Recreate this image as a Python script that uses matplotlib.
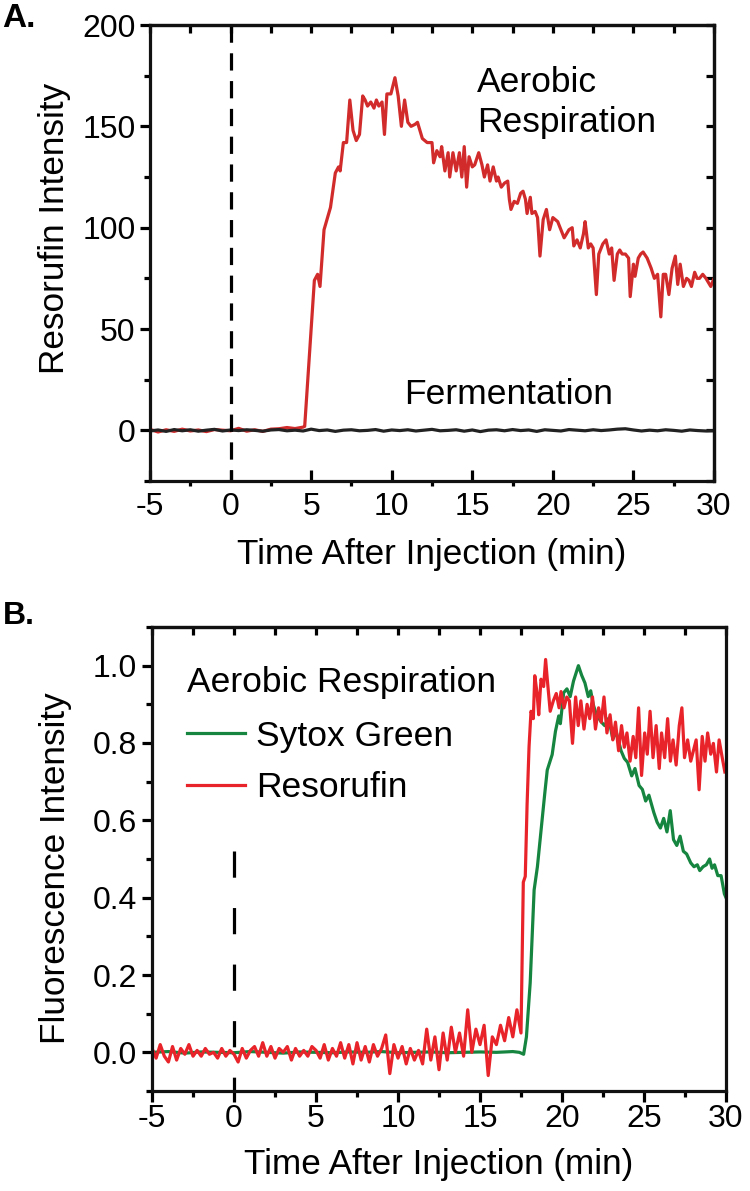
import numpy as np
import matplotlib
matplotlib.use('Agg')
import matplotlib.pyplot as plt
from matplotlib.ticker import MultipleLocator

plt.rcParams['font.family'] = ['Liberation Sans', 'DejaVu Sans']

# ---------------- panel A data ----------------
resA_pre_t = np.arange(-5.0, 4.6, 0.5)
resA_pre_y = [0.5, -0.8, 0.3, -0.5, 0.6, -0.3, 0.2, -0.6, 0.4, 0.1,
              -0.2, 1.0, -0.4, 0.3, -0.5, 0.6, 0.8, 1.4, 0.9, 1.6]
resA_t = [4.6, 5.2, 5.4, 5.55, 5.8, 6.2, 6.5, 6.7, 6.8, 7.0, 7.2, 7.4, 7.6, 7.8, 8.0,
          8.2, 8.35, 8.5, 8.7, 8.9, 9.05, 9.2, 9.4, 9.55, 9.7, 9.95, 10.2, 10.4, 10.6,
          10.8, 11.0, 11.2, 11.45, 11.6, 11.9, 12.2, 12.5, 12.6, 12.8, 13.0, 13.1, 13.3,
          13.5, 13.6, 13.8, 14.0, 14.2, 14.35, 14.5, 14.65, 14.8, 15.0, 15.15, 15.4, 15.6,
          15.75, 15.95, 16.1, 16.3, 16.5, 16.6, 16.8, 17.0, 17.2, 17.3, 17.4, 17.6, 17.8,
          18.0, 18.15, 18.3, 18.4, 18.6, 18.7, 18.9, 19.05, 19.2, 19.4, 19.6, 19.8, 20.0,
          20.3, 20.5, 20.7, 21.0, 21.2, 21.3, 21.5, 21.7, 21.9, 22.0, 22.2, 22.35, 22.5,
          22.7, 22.85, 23.1, 23.3, 23.5, 23.65, 23.8, 24.0, 24.15, 24.3, 24.5, 24.7, 24.8,
          25.0, 25.1, 25.3, 25.45, 25.6, 25.85, 26.1, 26.3, 26.5, 26.7, 26.85, 27.0, 27.2,
          27.4, 27.6, 27.75, 27.9, 28.1, 28.3, 28.45, 28.6, 28.8, 28.95, 29.1, 29.3, 29.5,
          29.8, 30.0, 30.15]
resA_y = [2, 74, 77, 71, 99, 110, 127, 130, 128, 142, 142, 163, 148, 143, 146,
          165, 163, 160, 162, 159, 163, 160, 162, 146, 166, 166, 174, 165, 150,
          163, 152, 150, 151, 152, 144, 142, 142, 132, 138, 135, 140, 128,
          137, 125, 137, 128, 137, 125, 140, 120, 135, 130, 131, 137, 131,
          125, 131, 123, 130, 123, 125, 120, 122, 123, 114, 109, 113, 112,
          117, 118, 114, 107, 115, 107, 108, 105, 86, 104, 109, 99, 105,
          103, 99, 95, 99, 100, 91, 94, 90, 97, 103, 90, 92, 90,
          67, 87, 92, 94, 87, 90, 74, 87, 89, 87, 87, 85, 66,
          82, 76, 85, 87, 88, 85, 80, 75, 77, 56, 77, 77, 67,
          80, 86, 72, 82, 71, 75, 74, 71, 78, 75, 75, 77, 75,
          71, 75, 76]
ferm_t = np.arange(-5.0, 30.1, 0.5)
ferm_y = [-0.3, 0.2, -0.5, 0.4, -0.2, 0.3, -0.4, 0.1, 0.5, -0.3, 0.2, -0.1,
          0.3, 0.0, -0.4, 0.2, 0.4, -0.2, 0.1, -0.3, 0.6, -0.1, 0.2, -0.5,
          0.1, 0.3, -0.2, 0.0, 0.4, -0.4, 0.2, -0.1, 0.3, -0.3, 0.1, 0.5,
          -0.2, 0.0, 0.3, -0.4, 0.2, -0.6, 0.1, 0.3, -0.2, 0.4, -0.1, 0.2,
          -0.5, 0.3, 0.0, -0.3, 0.4, 0.1, -0.2, 0.3, -0.1, 0.2, 0.6, 0.8,
          0.2, -0.3, 0.1, -0.2, 0.3, 0.0, -0.4, 0.2, -0.1, -0.3, -0.2]

# ---------------- panel B data ----------------
resB_pre_t = np.arange(-5.0, 17.51, 0.25)
resB_pre_y = [0.01, -0.015, 0.02, -0.01, -0.025, 0.015, -0.02, 0.01, -0.005, 0.02,
              -0.01, 0.005, -0.01, 0.01, -0.005, 0.0, -0.015, 0.01, -0.01, 0.005,
              -0.005, -0.025, 0.01, -0.015, 0.005, 0.015, -0.01, 0.025, -0.01, 0.015,
              -0.015, 0.01, 0.0, 0.015, -0.02, 0.01, -0.01, 0.005, -0.01, 0.015,
              0.005, -0.015, 0.02, -0.02, 0.01, -0.01, 0.025, -0.015, 0.02, -0.03,
              0.025, -0.02, 0.015, -0.025, 0.02, -0.01, 0.01, 0.045, -0.055, 0.02,
              -0.015, 0.015, -0.03, 0.01, -0.02, 0.005, -0.03, 0.06, -0.02, 0.04,
              -0.045, 0.05, -0.02, 0.065, 0.0, 0.05, -0.01, 0.11, 0.0, 0.06,
              0.02, 0.07, -0.06, 0.04, 0.02, 0.07, 0.03, 0.09, 0.04, 0.11, 0.05]
resB_t = [17.64, 17.76, 17.87, 17.99, 18.11, 18.25, 18.34, 18.48, 18.58, 18.72, 18.88,
          19.0, 19.12, 19.28, 19.47, 19.65, 19.82, 19.94, 20.12, 20.29, 20.45, 20.64,
          20.83, 20.99, 21.15, 21.34, 21.53, 21.69, 21.86, 22.04, 22.23, 22.39, 22.56,
          22.74, 22.93, 23.10, 23.26, 23.45, 23.63, 23.80, 23.96, 24.15, 24.34, 24.50,
          24.67, 24.85, 25.04, 25.20, 25.37, 25.55, 25.74, 25.93, 26.07, 26.26, 26.44,
          26.61, 26.77, 26.96, 27.15, 27.31, 27.47, 27.66, 27.85, 28.01, 28.18, 28.36,
          28.55, 28.72, 28.88, 29.07, 29.23, 29.42, 29.58, 29.77, 29.93]
resB_y = [0.44, 0.455, 0.64, 0.79, 0.882, 0.863, 0.974, 0.928, 0.873, 0.965, 0.946,
          1.016, 0.956, 0.882, 0.909, 0.928, 0.891, 0.933, 0.891, 0.919, 0.909, 0.799,
          0.919, 0.845, 0.909, 0.836, 0.900, 0.863, 0.919, 0.836, 0.891, 0.854, 0.919,
          0.826, 0.873, 0.808, 0.854, 0.780, 0.845, 0.789, 0.826, 0.753, 0.817, 0.762,
          0.891, 0.716, 0.826, 0.771, 0.882, 0.762, 0.845, 0.734, 0.826, 0.762, 0.863,
          0.753, 0.808, 0.743, 0.845, 0.891, 0.762, 0.808, 0.753, 0.780, 0.808, 0.679,
          0.817, 0.753, 0.826, 0.771, 0.799, 0.725, 0.808, 0.762, 0.725]
sytox_t = [-5, -4, -3, -2, -1, 0, 1, 2, 3, 4, 5, 6, 7, 8, 9, 10, 11, 12, 13, 14, 15,
           16, 17, 17.4, 17.66, 17.83, 18.06, 18.3, 18.5, 18.76, 18.95, 19.1, 19.25,
           19.4, 19.6, 19.8, 19.9, 20.1, 20.3, 20.5, 20.7, 21.0, 21.2, 21.4, 21.6,
           21.75, 21.9, 22.1, 22.4, 22.6, 22.85, 23.1, 23.3, 23.6, 23.8, 24.0, 24.25,
           24.45, 24.7, 24.9, 25.1, 25.3, 25.6, 25.8, 26.0, 26.2, 26.4, 26.6, 26.8,
           27.0, 27.2, 27.4, 27.6, 27.85, 28.05, 28.25, 28.4, 28.6, 28.8, 29.0, 29.15,
           29.3, 29.5, 29.7, 29.9, 30.0]
sytox_y = [0.0, 0.002, -0.002, 0.001, 0.0, -0.001, 0.002, 0.0, -0.002, 0.001, 0.0,
           -0.001, 0.001, 0.0, 0.002, -0.001, 0.0, 0.001, -0.001, 0.0, 0.001,
           0.0, 0.002, 0.0, -0.005, 0.04, 0.18, 0.42, 0.48, 0.59, 0.67, 0.73, 0.75,
           0.77, 0.83, 0.87, 0.85, 0.93, 0.94, 0.92, 0.96, 1.0, 0.975, 0.955, 0.92,
           0.935, 0.9, 0.873, 0.854, 0.845, 0.864, 0.81, 0.83, 0.78, 0.76, 0.75, 0.715,
           0.734, 0.69, 0.68, 0.65, 0.665, 0.62, 0.595, 0.58, 0.605, 0.57, 0.625, 0.55,
           0.535, 0.559, 0.52, 0.513, 0.49, 0.48, 0.485, 0.47, 0.48, 0.485, 0.50, 0.476,
           0.485, 0.457, 0.457, 0.41, 0.40]

tick_fs = 23
label_fs = 25.3
text_fs = 25.5
lw_axis = 2.3

fig = plt.figure(figsize=(7.5, 11.91), dpi=100)
axA = fig.add_axes([0.2, 0.5961, 0.752, 0.3829])
axB = fig.add_axes([0.2027, 0.08396, 0.7653, 0.3896])

for ax in (axA, axB):
    for s in ax.spines.values():
        s.set_linewidth(lw_axis)
        s.set_color('#111111')

# ---- panel A ----
axA.plot(np.concatenate([resA_pre_t, resA_t]), np.concatenate([resA_pre_y, resA_y]),
         color='#d22b2b', lw=2.3)
axA.plot(ferm_t, ferm_y, color='#222222', lw=2.3)
axA.plot([0, 0], [200, -25], color='black', lw=2.3, dashes=(5.4, 3.3))
axA.set_xlim(-5, 30)
axA.set_ylim(-25, 200)
axA.xaxis.set_major_locator(MultipleLocator(5))
axA.xaxis.set_minor_locator(MultipleLocator(2.5))
axA.yaxis.set_major_locator(MultipleLocator(50))
axA.yaxis.set_minor_locator(MultipleLocator(25))
axA.tick_params(axis='x', which='major', direction='in', length=7.7, width=lw_axis,
                labelsize=tick_fs, pad=8, top=False)
axA.tick_params(axis='x', which='minor', direction='out', length=3.8, width=lw_axis, top=False)
axA.tick_params(axis='y', which='major', direction='out', length=7.2, width=lw_axis,
                labelsize=tick_fs, pad=3.2, right=False)
axA.tick_params(axis='y', which='minor', direction='out', length=4.3, width=lw_axis, right=False)
axA.set_xticks([-5, 0, 5, 10, 15, 20, 25, 30])
axA.set_xticklabels(['-5', '0', '5', '10', '15', '20', '25', '30'])
topA = axA.secondary_xaxis('top')
topA.xaxis.set_major_locator(MultipleLocator(5))
topA.xaxis.set_minor_locator(MultipleLocator(2.5))
topA.tick_params(which='both', direction='in', length=6, width=lw_axis, labeltop=False)
topA.spines['top'].set_linewidth(lw_axis)
rightA = axA.secondary_yaxis('right')
rightA.yaxis.set_major_locator(MultipleLocator(50))
rightA.yaxis.set_minor_locator(MultipleLocator(25))
rightA.tick_params(which='both', direction='in', length=6, width=lw_axis, labelright=False)
rightA.spines['right'].set_linewidth(lw_axis)
axA.set_xlabel('Time After Injection (min)', fontsize=label_fs)
axA.set_ylabel('Resorufin Intensity', fontsize=label_fs)
axA.xaxis.set_label_coords(0.5, -0.125)
axA.yaxis.set_label_coords(-0.14, 0.553)
axA.text(15.3, 167, 'Aerobic', fontsize=text_fs, va='baseline')
axA.text(15.3, 147, 'Respiration', fontsize=text_fs, va='baseline')
axA.text(10.77, 12.8, 'Fermentation', fontsize=text_fs, va='baseline')

# ---- panel B ----
axB.plot(sytox_t, sytox_y, color='#168540', lw=2.3, label='Sytox Green')
axB.plot(np.concatenate([resB_pre_t, resB_t]), np.concatenate([resB_pre_y, resB_y]),
         color='#e8242a', lw=2.3, label='Resorufin')
axB.plot([0, 0], [0.52, -0.1], color='black', lw=2.3, dashes=(8.2, 9.5))
axB.set_xlim(-5, 30)
axB.set_ylim(-0.1, 1.1)
axB.xaxis.set_major_locator(MultipleLocator(5))
axB.xaxis.set_minor_locator(MultipleLocator(2.5))
axB.yaxis.set_major_locator(MultipleLocator(0.2))
axB.yaxis.set_minor_locator(MultipleLocator(0.1))
axB.tick_params(axis='x', which='major', direction='out', length=8, width=lw_axis,
                labelsize=tick_fs, pad=1.0, top=False)
axB.tick_params(axis='x', which='minor', direction='out', length=4.5, width=lw_axis, top=False)
axB.tick_params(axis='y', which='major', direction='out', length=7.2, width=lw_axis,
                labelsize=tick_fs, pad=3.5, right=False)
axB.tick_params(axis='y', which='minor', direction='out', length=4.3, width=lw_axis, right=False)
axB.set_xticks([-5, 0, 5, 10, 15, 20, 25, 30])
axB.set_xticklabels(['-5', '0', '5', '10', '15', '20', '25', '30'])
axB.set_yticks([0.0, 0.2, 0.4, 0.6, 0.8, 1.0])
axB.set_yticklabels(['0.0', '0.2', '0.4', '0.6', '0.8', '1.0'])
topB = axB.secondary_xaxis('top')
topB.xaxis.set_major_locator(MultipleLocator(2.5))
topB.tick_params(which='both', direction='in', length=6, width=lw_axis, labeltop=False)
topB.spines['top'].set_linewidth(lw_axis)
axB.set_xlabel('Time After Injection (min)', fontsize=label_fs)
axB.set_ylabel('Fluorescence Intensity', fontsize=label_fs)
axB.xaxis.set_label_coords(0.5, -0.123)
axB.yaxis.set_label_coords(-0.14, 0.48)
axB.text(-2.87, 0.933, 'Aerobic Respiration', fontsize=text_fs, va='baseline')
leg = axB.legend(loc='upper left', bbox_to_anchor=(0.061, 0.80), frameon=False,
                 fontsize=text_fs, borderpad=0, borderaxespad=0, handlelength=1.65,
                 handletextpad=0.3, labelspacing=0.52)

fig.text(0.003, 1 - 3 / 1191, 'A.', fontsize=24, fontweight='bold', va='top')
fig.text(0.004, 1 - 601 / 1191, 'B.', fontsize=23, fontweight='bold', va='top')

fig.savefig('out.png', dpi=100)
